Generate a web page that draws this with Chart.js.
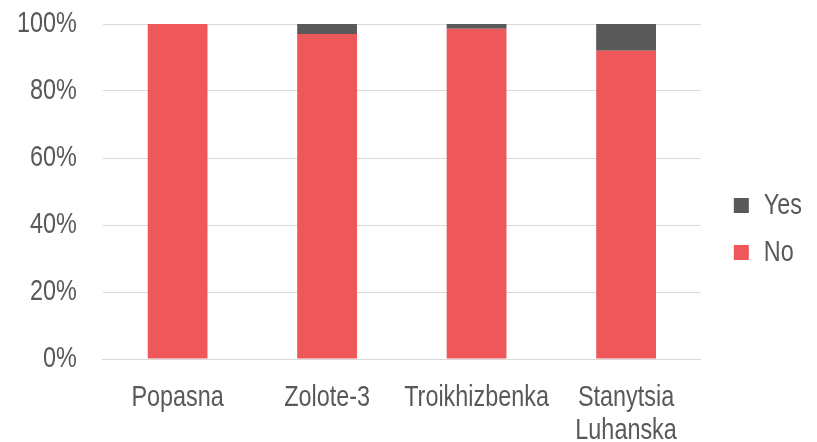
<!DOCTYPE html>
<html>
<head>
<meta charset="utf-8">
<script src="https://cdn.jsdelivr.net/npm/chart.js@4/dist/chart.umd.min.js"></script>
<style>
  html, body { margin: 0; padding: 0; background: #ffffff; }
  #wrap { width: 817px; height: 442px; }
</style>
</head>
<body>
<div id="wrap"><canvas id="c" width="817" height="442"></canvas></div>
<script>
// Share of answers per settlement (percent)
const categories = ['Popasna', 'Zolote-3', 'Troikhizbenka', ['Stanytsia', 'Luhanska']];
const noValues = [100, 97, 98.6, 92];
const yesValues = [0, 3, 1.4, 8];
const yTicks = [0, 20, 40, 60, 80, 100];

const FONT = '"Liberation Sans", Arial, sans-serif';
const TEXT = '#595959';
const NARROW = 0.78; // horizontal squeeze giving a narrow sans look

// Narrow text: squeeze every glyph run horizontally and report matching widths
const canvas = document.getElementById('c');
const ctx = canvas.getContext('2d');
const rawFill = ctx.fillText.bind(ctx);
const rawMeasure = ctx.measureText.bind(ctx);
ctx.fillText = function (text, x, y, maxWidth) {
  this.save();
  this.translate(x, y);
  this.scale(NARROW, 1);
  rawFill(text, 0, 0);
  this.restore();
};
ctx.measureText = function (text) {
  const m = rawMeasure(text);
  return {
    width: m.width * NARROW,
    actualBoundingBoxAscent: m.actualBoundingBoxAscent,
    actualBoundingBoxDescent: m.actualBoundingBoxDescent,
    actualBoundingBoxLeft: m.actualBoundingBoxLeft * NARROW,
    actualBoundingBoxRight: m.actualBoundingBoxRight * NARROW
  };
};

new Chart(canvas, {
  type: 'bar',
  data: {
    labels: categories,
    datasets: [
      { label: 'No', data: noValues, backgroundColor: '#EF585A', borderWidth: 0 },
      { label: 'Yes', data: yesValues, backgroundColor: '#595959', borderWidth: 0 }
    ]
  },
  options: {
    responsive: false,
    animation: false,
    layout: { padding: { top: -3, right: 5, left: 11, bottom: -19 } },
    datasets: { bar: { categoryPercentage: 1, barPercentage: 0.4 } },
    scales: {
      x: {
        stacked: true,
        grid: { display: false },
        border: { display: true, color: '#D9D9D9', width: 1 },
        ticks: {
          color: TEXT, font: { family: FONT, size: 30, lineHeight: 1.1 },
          padding: 14, maxRotation: 0, autoSkip: false
        }
      },
      y: {
        stacked: true,
        min: 0, max: 100,
        afterBuildTicks: (s) => { s.ticks = yTicks.map(v => ({ value: v })); },
        grid: { color: '#D9D9D9', lineWidth: 1, drawTicks: true, tickLength: 20, tickColor: 'rgba(0,0,0,0)' },
        border: { display: false },
        ticks: { color: TEXT, font: { family: FONT, size: 30 }, padding: 6, callback: v => v + '%' }
      },
      // empty gap between the plot and the legend
      gap: {
        type: 'linear',
        position: 'right',
        display: true,
        grid: { display: false },
        border: { display: false },
        ticks: { display: false },
        afterFit: (s) => { s.width = 16; }
      }
    },
    plugins: {
      tooltip: { enabled: false },
      legend: {
        position: 'right',
        reverse: true,
        labels: {
          color: TEXT,
          font: { family: FONT, size: 30 },
          boxWidth: 15, boxHeight: 15,
          padding: 17
        }
      }
    }
  }
});
</script>
</body>
</html>
